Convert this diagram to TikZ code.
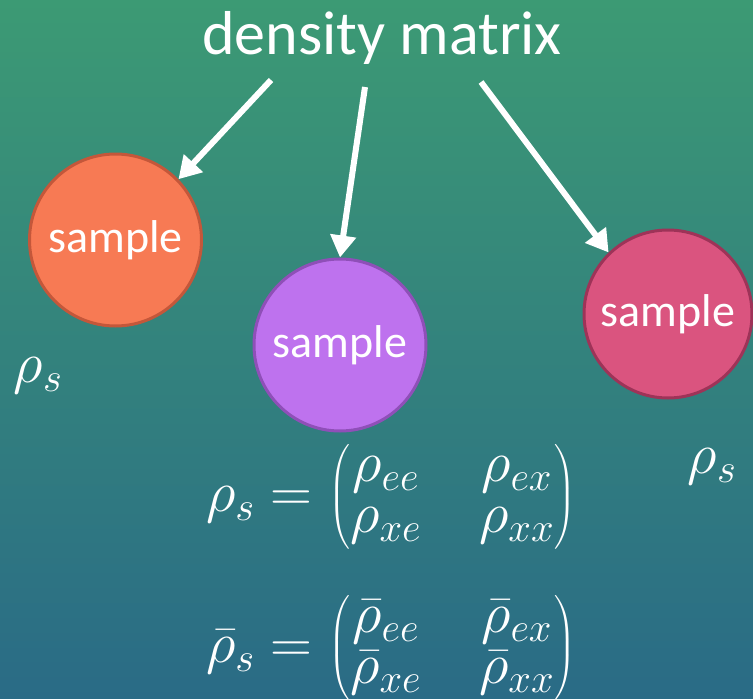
\RequirePackage{fix-cm}
\documentclass[tikz,border=0pt]{standalone}
\usepackage{amsmath}
\usepackage{fontspec}
\setmainfont{Carlito}
\usepackage{tikz}
\usetikzlibrary{positioning,calc,arrows.meta}
\definecolor{BgTop}{HTML}{3C9A74}
\definecolor{BgMid}{HTML}{2F8079}
\definecolor{BgLow}{HTML}{2A6B86}
\definecolor{OrangeFill}{HTML}{F77A54}
\definecolor{OrangeLine}{HTML}{C4573A}
\definecolor{PurpleFill}{HTML}{BE72EE}
\definecolor{PurpleLine}{HTML}{8F4FB8}
\definecolor{PinkFill}{HTML}{DA547F}
\definecolor{PinkLine}{HTML}{9E3358}

\begin{document}
\begin{tikzpicture}[
      x=1pt, y=-1pt,
      sample/.style = {circle, line width=3pt, minimum size=172pt, inner sep=0pt,
        text=white, font=\fontsize{46}{52}\selectfont},
      eqn/.style = {text=white, inner sep=0pt, font=\fontsize{58}{60}\selectfont,
        execute at begin node={\setlength{\arraycolsep}{29pt}\renewcommand{\arraystretch}{0.85}}},
      arrow/.style = {white, line width=6pt, -{Triangle[length=22pt,width=25pt]}}
    ]
    \shade [top color=BgTop, middle color=BgMid, bottom color=BgLow]
      (0,0) rectangle (753,699);
    \useasboundingbox (0,0) rectangle (753,699);
    \node (title) [text=white, inner sep=0pt, font=\fontsize{62}{70}\selectfont]
      at (382,38) {density matrix};
    \node (orange) [sample, fill=OrangeFill, draw=OrangeLine] at (115.5,240) {sample};
    \node (purple) [sample, fill=PurpleFill, draw=PurpleLine] at (340,345) {sample};
    \node (pink) [sample, fill=PinkFill, draw=PinkLine, minimum size=168pt] at (668,314) {sample};
    \node (rhoL) [eqn] at (38,376) {$\rho_s$};
    \node (rhoR) [eqn] at (712,467) {$\rho_s$};
    \node (eqA) [eqn] at (391,497)
      {$\rho_s = \begin{pmatrix} \rho_{ee} & \rho_{ex} \\ \rho_{xe} & \rho_{xx} \end{pmatrix}$};
    \node (eqB) [eqn] at (391,648)
      {$\bar{\rho}_s = \begin{pmatrix} \bar{\rho}_{ee} & \bar{\rho}_{ex} \\ \bar{\rho}_{xe} & \bar{\rho}_{xx} \end{pmatrix}$};
    \coordinate (s1) at (271,80);
    \coordinate (s2) at (365,87);
    \coordinate (s3) at (481,82);
    \draw [arrow] (s1) -- (orange.44);
    \draw [arrow] (s2) -- (purple.north);
    \draw [arrow] (s3) -- (pink.134);
  \end{tikzpicture}
\end{document}
